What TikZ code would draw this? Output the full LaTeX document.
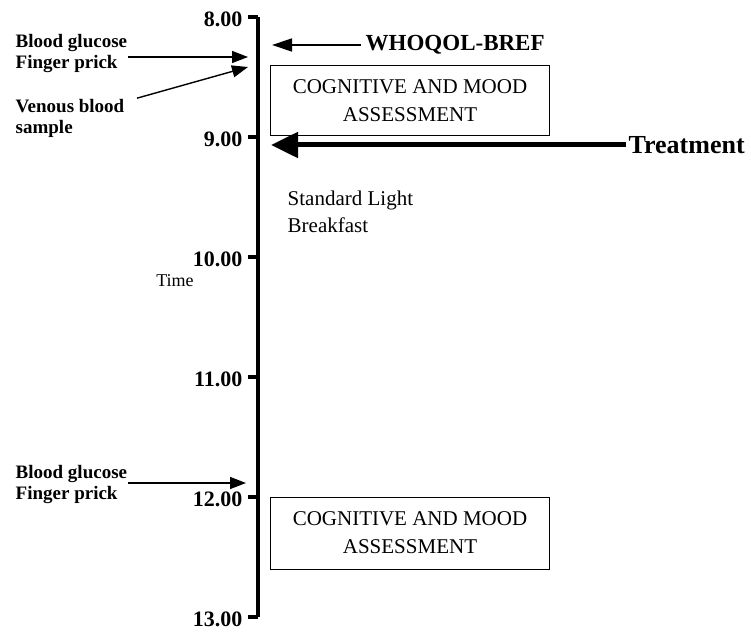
\documentclass[tikz,border=0pt]{standalone}
\usepackage{fontspec}
\setmainfont{Liberation Serif}
\usetikzlibrary{arrows.meta}

\begin{document}
\begin{tikzpicture}[x=1pt,y=-1pt,->,>={Triangle[length=16pt,width=12pt]},
                    line width=1.4pt]
  \tikzstyle{lab}=[inner sep=0pt,align=left,anchor=west,
  font=\fontsize{19}{21}\selectfont\bfseries]
  \tikzstyle{hour}=[inner sep=0pt,anchor=east,
  font=\fontsize{22}{26}\selectfont\bfseries]
  \tikzstyle{assess}=[draw,-,line width=1pt,minimum width=279pt,
  minimum height=70pt,align=center,font=\fontsize{21}{28}\selectfont]
  \useasboundingbox (0,0) rectangle (751,631);

  % time axis
  \coordinate (top) at (258,17);
  \coordinate (bot) at (258,617);
  \draw[-,line width=4pt] (top) -- (bot);
  \foreach \h [count=\i from 0] in {8,...,13} {
    \coordinate (a\h) at (258,17+120*\i);
    \node[hour] (t\h) at (243,19+120*\i) {\h.00};
    \draw[-,line width=4pt] (a\h) -- ([xshift=-10pt]a\h);
  }
  \node[font=\fontsize{18}{20}\selectfont] (tm) at (175,281) {Time};

  % boxes
  \node[assess] (ca1) at (410,101) {COGNITIVE AND MOOD\\ASSESSMENT};
  \node[assess,minimum height=72pt] (ca2) at (410,533)
       {COGNITIVE AND MOOD\\ASSESSMENT};
  \node[inner sep=0pt,align=left,anchor=west,
        font=\fontsize{21}{27}\selectfont] (sb) at (287,212)
       {Standard Light\\Breakfast};

  % samples
  \node[lab] (bg1) at (15,54) {Blood glucose\\Finger prick};
  \node[lab] (vb)  at (15,118) {Venous blood\\sample};
  \node[lab] (bg2) at (15,484) {Blood glucose\\Finger prick};
  \coordinate (g1) at (248,57);
  \coordinate (g2) at (248,67);
  \coordinate (g3) at (246,483);
  \draw (bg1.east |- g1) -- (g1);
  \draw ([xshift=12pt]vb.north east) -- (g2);
  \draw (bg2.east |- g3) -- (g3);

  % questionnaire and treatment
  \node[inner sep=4pt,anchor=west,font=\fontsize{23}{26}\selectfont\bfseries]
       (wq) at (361,45) {WHOQOL-BREF};
  \coordinate (wqt) at (272,45);
  \draw[>={Triangle[length=20pt,width=13pt]}] (wq.west) -- (wqt);
  \node[inner sep=2pt,anchor=west,font=\fontsize{26}{28}\selectfont\bfseries]
       (tr) at (626,145) {Treatment};
  \coordinate (trt) at (271,145);
  \draw[line width=5pt,>={Triangle[length=27pt,width=25pt]}] (tr.west) -- (trt);
\end{tikzpicture}
\end{document}
